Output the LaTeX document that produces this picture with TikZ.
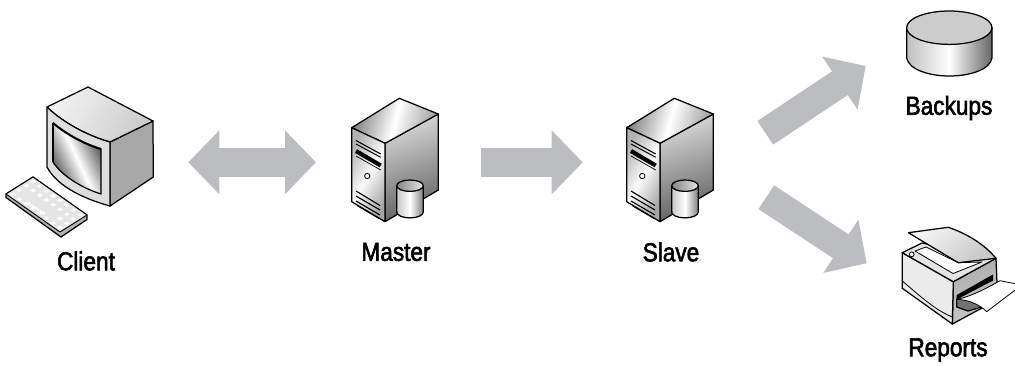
\documentclass[tikz,border=0pt]{standalone}
\usepackage{fontspec}
\setmainfont[FakeStretch=0.87,FakeBold=2.2]{Liberation Sans}
\usetikzlibrary{arrows.meta,calc}
\definecolor{arrowgray}{HTML}{BCBDC0}
\tikzset{
  outline/.style={draw=black,line width=1.25pt,line join=round},
  thinline/.style={draw=black,line width=0.8pt,line join=round},
  hit/.style={inner sep=0pt,outer sep=0pt,minimum width=#1},
  lbl/.style={font=\fontsize{26}{30}\selectfont,inner sep=0pt,text=black},
  bigarrow/.style={draw=arrowgray,line width=28.4pt},
  bighead/.tip={Triangle[length=31pt,width=62pt,fill=arrowgray,color=arrowgray]},
}
\newcommand{\serverIcon}[1]{%
\begin{scope}[shift={(#1,0)}]
  % right side
  \path[outline,left color=black!15,right color=black!62,shading angle=20]
    (385,143.3)--(438.3,114)--(438.3,190)--(385,221.7)--cycle;
  % top
  \path[outline,left color=black!50,right color=black!38,middle color=white,shading angle=75]
    (351.7,127.7)--(399.3,98.3)--(438.3,114)--(385,143.3)--cycle;
  % front
  \path[outline,left color=black!30,right color=black!35,middle color=black!2,shading angle=60]
    (351.7,127.7)--(385,143.3)--(385,221.7)--(351.7,201.7)--cycle;
  % drive slots
  \draw[line width=1.1pt] (356,140.5)--(380.7,154);
  \draw[line width=1pt] (356,144)--(380.7,157.3);
  \draw[line width=4.2pt] (356,151)--(380.7,165.5);
  \draw[line width=.7pt] (356,156)--(380.7,170);
  \draw[line width=.8pt,fill=white] (367.3,176) circle (2.7);
  \draw[line width=1.1pt] (356,191)--(380,205.5);
  \draw[line width=1.1pt] (356,196)--(380,210);
  \draw[line width=1.1pt] (356,201)--(380,215);
  \draw[line width=1pt] (357,205.5)--(379,218.5);
  % cylinder
  \path[outline,left color=black!22,right color=black!50,middle color=white]
    (396.7,185.7)--(396.7,212) arc[start angle=180,end angle=0,x radius=13.3,y radius=5.9]
    --(423.3,185.7)--cycle;
  \path[outline,left color=black!48,right color=black!10]
    (410,185.7) ellipse[x radius=13.3,y radius=5.7];
\end{scope}}
\begin{document}
\begin{tikzpicture}[x=1pt,y=-1pt]
\useasboundingbox (0,0) rectangle (1015,365);
\clip (0,0) rectangle (1015,365);
\fill[white] (0,0) rectangle (1015,365);

% ---- anchor boxes of the icons
\node[hit=182.3,minimum height=150] (client) at (97.15,162.3) {};
\node[hit=164.7,minimum height=125] (master) at (398.35,162.3) {};
\node[hit=174.6,minimum height=125] (slave) at (670,162.3) {};
\node[hit=149.3,minimum height=61] (backups) at (940.35,35.5) {};
\node[hit=148.3,minimum height=66.7] (reports) at (940.85,296.65) {};
\coordinate (slaveup) at (765.3,132.8);
\coordinate (slavedown) at (766.3,197.2);

% ---- connectors
\draw[bigarrow,{bighead}-{bighead}] (client.east)--(master.west);
\draw[bigarrow,-{bighead}] (master.east)--(slave.west);
\draw[bigarrow,-{bighead}] (slaveup)--(backups.south west);
\draw[bigarrow,-{bighead}] (slavedown)--(reports.north west);

% ---- client: monitor
\path[outline,fill=black!34] (110,142)--(153,121)--(153.3,177)--(110,206)--cycle;
\path[outline,left color=black!5,right color=black!20,shading angle=60]
  (47,107)--(88,87)--(153,121)--(110,142) .. controls (88,136) and (62,122) .. (47,107)--cycle;
\path[outline,fill=black!13]
  (47,107) .. controls (62,122) and (88,136) .. (110,142)--(110,206)
  .. controls (88,200) and (58,188) .. (47,167)--cycle;
\path[outline,left color=black!72,right color=black!72,middle color=white,shading angle=115]
  (53,123) .. controls (66,134) and (84,144) .. (101,149)--(101,194)
  .. controls (82,188) and (62,176) .. (53,162)--cycle;
\draw[line width=2pt] (53,123) .. controls (66,134) and (84,144) .. (101,149);
\draw[line width=1.6pt] (53,123)--(53,162);

% ---- client: keyboard
\path[outline,fill=black!30] (6,194)--(6,197.5)--(61,237)--(87,219.5)--(87,215)--(33,177)--cycle;
\path[fill=black!10,line width=.9pt,draw=black,line join=round] (6,194)--(60,232)--(87,215)--(33,177)--cycle;
\foreach \i in {0,...,7}{\foreach \j in {0,...,3}{
  \pgfmathsetmacro{\px}{6+(\i+.5)/8*54+(\j+.5)/4*27}
  \pgfmathsetmacro{\py}{194+(\i+.5)/8*38-(\j+.5)/4*17}
  \fill[white] (\px-2.9,\py)--(\px,\py-1.9)--(\px+2.9,\py)--(\px,\py+1.9)--cycle;
}}
\fill[black!10] (22,196)--(52,217)--(58,213)--(28,192)--cycle;
\draw[white,line width=2pt] (28,203)--(45,214);

% ---- servers
\serverIcon{0}
\serverIcon{275}

% ---- backups
\path[outline,left color=black!25,right color=black!60,middle color=white]
  (906.7,27.7)--(906.7,58) .. controls (909,70) and (930,76) .. (949.3,76)
  .. controls (969,76) and (990,70) .. (992,58)--(992,27.7)--cycle;
\path[outline,fill=black!20] (949.3,27.7) ellipse[x radius=42.7,y radius=16.7];

% ---- reports: printer
\path[outline,left color=black!32,right color=black!22,shading angle=20]
  (953.3,281.7)--(996,258.3)--(997,283)--(982,308)--(952.3,324)--cycle;
\path[outline,fill=black!8]
  (902.3,252.7)--(953.3,281.7)--(952.3,324)--(902.3,288.3)--cycle;
\draw[line width=.8pt] (902.3,281) .. controls (920,296) and (935,310) .. (952.3,317);
\path[outline,fill=black!10] (902.3,252.7)--(922,243)--(996,258.3)--(953.3,281.7)--cycle;
\path[thinline,fill=white] (915,251)--(926,247)--(958.3,262.7)--(982,262)--(953,273.5)--cycle;
\draw[line width=.8pt,fill=white] (911.7,254.3) circle (2.4);
% lid
\path[outline,left color=black!4,right color=black!22,shading angle=40]
  (908.3,232.7)--(948.3,227.3) .. controls (968,234) and (985,245) .. (996,258.3)
  --(958.3,262.7)--cycle;
% slot and paper
\path[fill=black] (956.7,295)--(993,274.5)--(993,280.5)--(956.7,299.5)--cycle;
\path[outline,fill=black!55] (956.7,299)--(956.7,307)--(968,311)--(985,306)--(975,300)--cycle;
\path[thinline,fill=white]
  (956.7,299.3) .. controls (970,297) and (985,289) .. (1000,280.7)
  --(1021.7,285)--(986.7,311.7) .. controls (980,305) and (970,300) .. (956.7,299.3)--cycle;

% ---- labels
\node[lbl] (clientlabel) at (86,261) {Client};
\node[lbl] (masterlabel) at (396,252) {Master};
\node[lbl] (slavelabel) at (671,252) {Slave};
\node[lbl] (backupslabel) at (949,108) {Backups};
\node[lbl] (reportslabel) at (948,350) {Reports};
\end{tikzpicture}
\end{document}
